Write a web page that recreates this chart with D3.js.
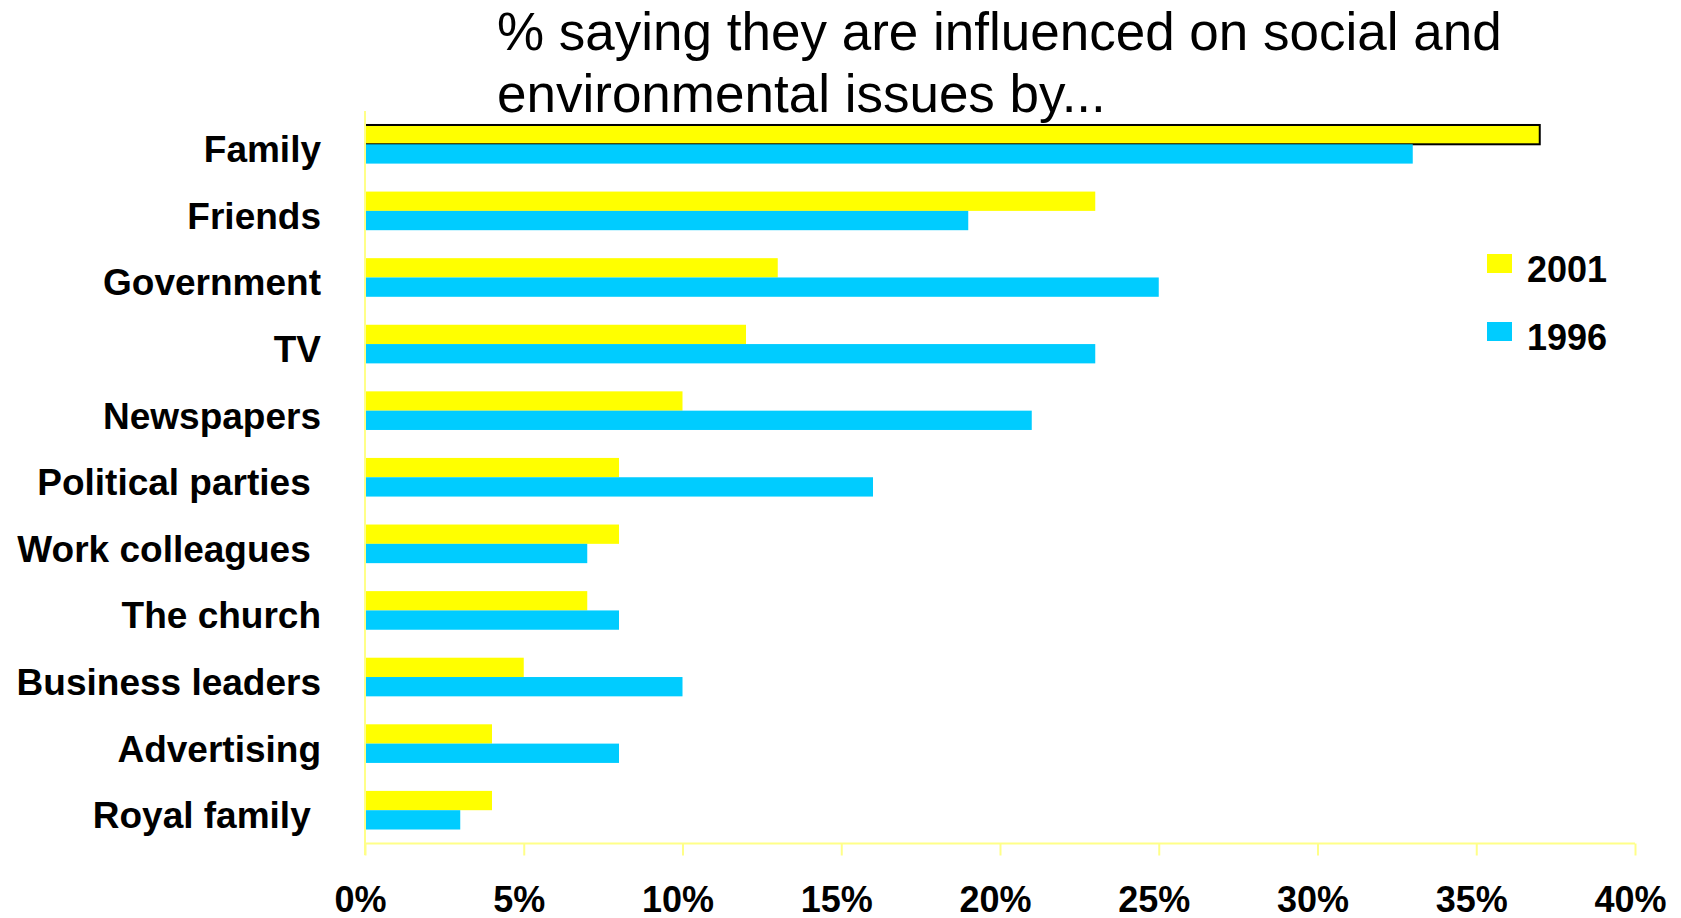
<!DOCTYPE html>
<html>
<head>
<meta charset="utf-8">
<script src="https://cdn.jsdelivr.net/npm/d3@7"></script>
<style>
  html, body { margin: 0; padding: 0; background: #ffffff; }
  svg { display: block; }
  text { font-family: Arial, "Liberation Sans", sans-serif; white-space: pre; }
</style>
</head>
<body>
<svg id="chart" width="1681" height="918"></svg>
<script>
// ---- data ----
const categories = ["Family", "Friends", "Government", "TV", "Newspapers", "Political parties ",
  "Work colleagues ", "The church", "Business leaders", "Advertising", "Royal family "];
const seriesNames = ["2001", "1996"];
const values2001 = [37, 23, 13, 12, 10, 8, 8, 7, 5, 4, 4];
const values1996 = [33, 19, 25, 23, 21, 16, 7, 8, 10, 8, 3];
const xTicks = [0, 5, 10, 15, 20, 25, 30, 35, 40];
const titleLines = ["% saying they are influenced on social and", "environmental issues by..."];

// ---- setup ----
const svg = d3.select("#chart");
const colors = { "2001": "#ffff00", "1996": "#00ccff" };
const axisColor = "#ffff88";

const x = d3.scaleLinear().domain([0, 40]).range([365, 1635]);
const y = d3.scaleBand().domain(categories).range([111, 843.5]).paddingInner(0).paddingOuter(0);
const bw = y.bandwidth();
const ySub = d3.scaleBand().domain(seriesNames).range([bw * 0.21, bw * 0.79]).padding(0);

const rows = categories.map((c, i) => ({ cat: c, "2001": values2001[i], "1996": values1996[i] }));

// title
svg.append("g").selectAll("text").data(titleLines).join("text")
  .attr("x", 497)
  .attr("y", (d, i) => 50 + i * 62)
  .attr("font-size", 53)
  .attr("fill", "#000")
  .text(d => d);

// bars
const groups = svg.append("g").selectAll("g").data(rows).join("g")
  .attr("transform", d => `translate(0,${y(d.cat)})`);

groups.selectAll("rect").data((d, i) => seriesNames.map(s => ({ s, v: d[s], first: i === 0 })))
  .join("rect")
  .attr("x", x(0))
  .attr("y", d => ySub(d.s))
  .attr("width", d => x(d.v) - x(0))
  .attr("height", ySub.bandwidth())
  .attr("fill", d => colors[d.s])
  .attr("stroke", d => (d.first && d.s === "2001") ? "#000" : "none")
  .attr("stroke-width", 2);

// x axis
const xAxis = d3.axisBottom(x).tickValues(xTicks).tickSize(12).tickFormat(d => d + "%");
const gx = svg.append("g").attr("transform", "translate(0,843.5)").call(xAxis);
gx.select(".domain").attr("stroke", axisColor).attr("stroke-width", 2).attr("d", `M${x(0)},0H${x(40)}`);
gx.selectAll(".tick line").attr("stroke", axisColor).attr("stroke-width", 2);
gx.selectAll(".tick text")
  .attr("y", 0).attr("dy", null)
  .attr("transform", "translate(-5,68)")
  .attr("font-size", 36).attr("font-weight", "bold").attr("fill", "#000")
  .attr("font-family", "Arial, 'Liberation Sans', sans-serif");

// y axis
const yAxis = d3.axisLeft(y).tickSize(0).tickPadding(0);
const gy = svg.append("g").attr("transform", `translate(${x(0)},0)`).call(yAxis);
gy.select(".domain").attr("stroke", axisColor).attr("stroke-width", 2).attr("d", `M0,111V855`);
gy.selectAll(".tick text")
  .attr("x", 321 - x(0))
  .attr("dy", null)
  .attr("y", 18)
  .attr("text-anchor", "end")
  .style("white-space", "pre")
  .attr("font-size", 37).attr("font-weight", "bold").attr("fill", "#000")
  .attr("font-family", "Arial, 'Liberation Sans', sans-serif");

// legend
const legend = svg.append("g").selectAll("g").data(seriesNames).join("g")
  .attr("transform", (d, i) => `translate(1487,${254 + i * 68})`);
legend.append("rect").attr("width", 25).attr("height", 19).attr("fill", d => colors[d]);
legend.append("text").attr("x", 40).attr("y", 27.5)
  .attr("font-size", 36).attr("font-weight", "bold").attr("fill", "#000")
  .text(d => d);
</script>
</body>
</html>
